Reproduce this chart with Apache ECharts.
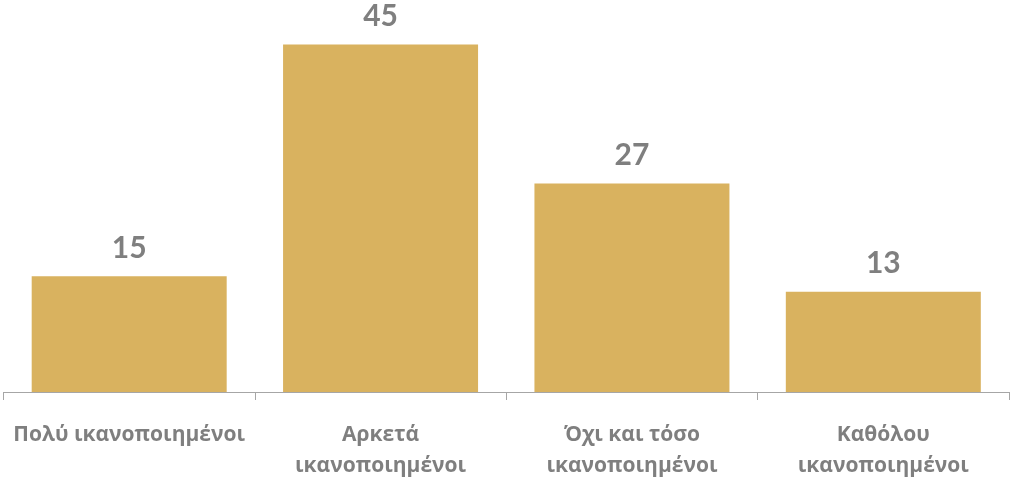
<!DOCTYPE html>
<html>
<head>
<meta charset="utf-8">
<script src="https://cdn.jsdelivr.net/npm/echarts@6/dist/echarts.min.js"></script>
<style>
	html, body { margin: 0; padding: 0; background: #fff; }
	#chart { width: 1013px; height: 482px; }
</style>
</head>
<body>
<div id="chart"></div>
<script>
var categories = ['Πολύ ικανοποιημένοι', 'Αρκετά\nικανοποιημένοι', 'Όχι και τόσο\nικανοποιημένοι', 'Καθόλου\nικανοποιημένοι'];
var values = [15, 45, 27, 13];

var dom = document.getElementById('chart');
var myChart = echarts.init(dom);
var option = {
	animation: false,
	grid: {
		left: 3.5,
		right: 4,
		top: 6,
		bottom: 89
	},
	xAxis: {
		type: 'category',
		data: categories,
		axisLine: {
			lineStyle: { color: '#a6a6a6', width: 1 }
		},
		axisTick: {
			show: true,
			length: 8,
			lineStyle: { color: '#a6a6a6' }
		},
		axisLabel: {
			interval: 0,
			margin: 28,
			color: '#7f7f7f',
			fontSize: 21,
			fontWeight: 'bold',
			lineHeight: 31,
			fontFamily: '"Open Sans", sans-serif'
		}
	},
	yAxis: {
		type: 'value',
		min: 0,
		max: 50,
		show: false,
		splitLine: { show: false }
	},
	series: [{
		type: 'bar',
		data: values,
		barWidth: 195,
		itemStyle: { color: '#d9b25f' },
		label: {
			show: true,
			position: 'top',
			distance: 13,
			color: '#7f7f7f',
			fontSize: 30,
			fontWeight: 'bold',
			fontFamily: 'Lato, "Open Sans", sans-serif'
		}
	}]
};
myChart.setOption(option, true);
</script>
</body>
</html>
